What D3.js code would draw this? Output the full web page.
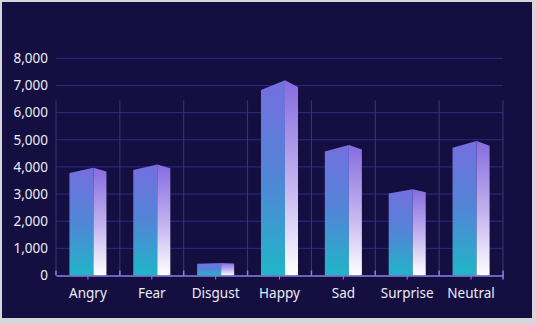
<!DOCTYPE html>
<html>
<head>
<meta charset="utf-8">
<script src="https://cdn.jsdelivr.net/npm/d3@7"></script>
<style>
  html, body { margin: 0; padding: 0; background: #d6d6dc; }
  svg { display: block; }
  .axis text { font-family: "Noto Sans", sans-serif; font-size: 13.5px; fill: #ececf6; }
</style>
</head>
<body>
<svg id="chart" width="536" height="324"></svg>
<script>
var categories = ['Angry', 'Fear', 'Disgust', 'Happy', 'Sad', 'Surprise', 'Neutral'];
var counts = [3970, 4090, 460, 7190, 4810, 3180, 4950];
var yTicks = [0, 1000, 2000, 3000, 4000, 5000, 6000, 7000, 8000];

var svg = d3.select('#chart'),
    left = 56,
    right = 503,
    base = 275.5,
    top_y = 58.3,
    bg = '#140f40';

var x = d3.scaleBand().domain(categories).range([left, right]).padding(0),
    y = d3.scaleLinear().domain([0, 8000]).range([base, top_y]);

// background panel
svg.append('rect')
   .attr('x', 2)
   .attr('y', 2)
   .attr('width', 530)
   .attr('height', 316)
   .attr('fill', bg);

// gradients for the two faces
var defs = svg.append('defs');

var front = defs.append('linearGradient')
    .attr('id', 'front-grad')
    .attr('x1', 0).attr('y1', 0).attr('x2', 0).attr('y2', 1);
front.append('stop').attr('offset', '0%').attr('stop-color', '#746fdf');
front.append('stop').attr('offset', '50%').attr('stop-color', '#5285d6');
front.append('stop').attr('offset', '100%').attr('stop-color', '#1fb6c8');

var side = defs.append('linearGradient')
    .attr('id', 'side-grad')
    .attr('x1', 0).attr('y1', 0).attr('x2', 0).attr('y2', 1);
side.append('stop').attr('offset', '0%').attr('stop-color', '#876be0');
side.append('stop').attr('offset', '55%').attr('stop-color', '#c4b6f0');
side.append('stop').attr('offset', '100%').attr('stop-color', '#ffffff');

// horizontal grid
svg.append('g')
   .selectAll('line')
   .data(yTicks.slice(1))
   .join('line')
   .attr('x1', left)
   .attr('x2', right)
   .attr('y1', function(d){ return y(d); })
   .attr('y2', function(d){ return y(d); })
   .attr('stroke', '#2c2a88')
   .attr('stroke-width', 1);

// vertical grid at category boundaries
var bounds = categories.map(function(c){ return x(c); }).concat([right]);

svg.append('g')
   .selectAll('line')
   .data(bounds)
   .join('line')
   .attr('x1', function(d){ return d; })
   .attr('x2', function(d){ return d; })
   .attr('y1', y(6450))
   .attr('y2', base)
   .attr('stroke', '#3b3677')
   .attr('stroke-width', 1);

// bars
var frontW = x.bandwidth() * 0.376,
    sideW = x.bandwidth() * 0.204;

var bars = svg.append('g')
   .selectAll('g')
   .data(categories.map(function(c, i){ return {name: c, value: counts[i]}; }))
   .join('g');

bars.append('path')
    .attr('fill', 'url(#front-grad)')
    .attr('d', function(d){
      var cx = x(d.name) + x.bandwidth() / 2,
          x0 = cx - (frontW + sideW) / 2,
          xm = x0 + frontW,
          yv = y(d.value),
          rise = (base - yv) * 0.05;
      return 'M' + x0 + ',' + (yv + rise) + 'L' + xm + ',' + yv +
             'L' + xm + ',' + base + 'L' + x0 + ',' + base + 'Z';
    });

bars.append('path')
    .attr('fill', 'url(#side-grad)')
    .attr('d', function(d){
      var cx = x(d.name) + x.bandwidth() / 2,
          x0 = cx - (frontW + sideW) / 2,
          xm = x0 + frontW,
          x1 = xm + sideW,
          yv = y(d.value),
          rise = (base - yv) * 0.05;
      return 'M' + xm + ',' + yv + 'L' + x1 + ',' + (yv + rise * 0.7) +
             'L' + x1 + ',' + base + 'L' + xm + ',' + base + 'Z';
    });

// y axis labels
svg.append('g')
   .attr('class', 'axis')
   .attr('transform', 'translate(' + left + ',0)')
   .call(d3.axisLeft(y).tickValues(yTicks).tickFormat(d3.format(',')).tickSize(0).tickPadding(8))
   .call(function(g){ g.select('.domain').remove(); });

// x axis
var xAxis = svg.append('g')
   .attr('class', 'axis')
   .attr('transform', 'translate(0,' + base + ')')
   .call(d3.axisBottom(x).tickSize(4).tickPadding(9).tickSizeOuter(0));

xAxis.select('.domain')
     .attr('stroke', '#8c7fe6')
     .attr('stroke-width', 1.5);
xAxis.selectAll('.tick line')
     .attr('stroke', '#8c7fe6');

// small inner ticks at the boundaries
svg.append('g')
   .selectAll('line')
   .data(bounds)
   .join('line')
   .attr('x1', function(d){ return d; })
   .attr('x2', function(d){ return d; })
   .attr('y1', base - 5)
   .attr('y2', function(d, i){ return i === bounds.length - 1 ? base + 4 : base; })
   .attr('stroke', '#8c7fe6')
   .attr('stroke-width', 1.5);
</script>
</body>
</html>
